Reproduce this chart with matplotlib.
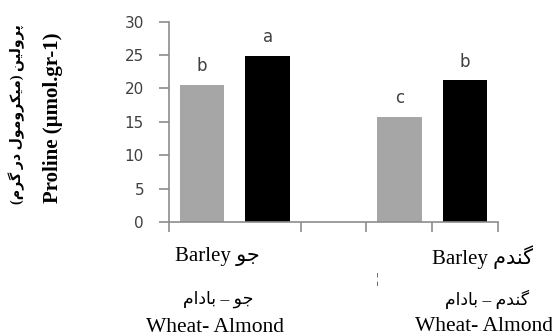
import numpy as np
import matplotlib
matplotlib.use("Agg")
import matplotlib.pyplot as plt

# proline content, two treatments per crop
proline = [20.5, 24.9, 15.8, 21.2]
letters = ["b", "a", "c", "b"]
bar_colors = ["#a6a6a6", "#000000", "#a6a6a6", "#000000"]

# matplotlib does not shape Arabic script, so the Persian words are written
# with presentation forms, already in display (left-to-right) order
jo = "\uFEEE\uFE9F"                           # جو
gandom = "\uFEE1\uFEAA\uFEE8\uFB94"           # گندم
badam = "\uFEE1\uFE8D\uFEA9\uFE8E\uFE91"      # بادام
geram = "\uFEE1\uFEAE\uFB94"                  # گرم
dar = "\uFEAD\uFEA9"                          # در
mikromol = "\uFEDD\uFEEE\uFEE3\uFEED\uFEAE\uFB91\uFBFF\uFEE3"   # میکرومول
prolin = "\uFEE6\uFBFF\uFEDF\uFEED\uFEAE\uFB58"                 # پرولین

ylabel_en = "Proline (\u00b5mol.gr-1)"
ylabel_fa = "(" + geram + " " + dar + " " + mikromol + ") " + prolin
top_labels = ["Barley " + jo, "Barley " + gandom]
mid_labels = [badam + " \u2013 " + jo, badam + " \u2013 " + gandom]
bottom_label = "Wheat- Almond"

mixed = ["Liberation Serif", "DejaVu Sans"]

fig = plt.figure(figsize=(5.52, 3.36), dpi=100)
ax = fig.add_axes([169 / 552, 1 - 222 / 336, (498 - 169) / 552, (222 - 21.7) / 336])

xpos = np.array([0.5, 1.5, 3.5, 4.5])
bars = ax.bar(xpos, proline, width=0.68, color=bar_colors, linewidth=0)
for b, lab in zip(bars, letters):
    ax.annotate(lab, (b.get_x() + b.get_width() / 2, b.get_height()),
                xytext=(0, 10), textcoords="offset points", ha="center",
                va="baseline", fontsize=12, color="#404040")

ax.set_xlim(0, 5)
ax.set_ylim(0, 30)
ax.set_yticks(range(0, 31, 5))
ax.set_xticks([0, 2, 3, 4, 5])
ax.set_xticklabels([])
for s in ["top", "right"]:
    ax.spines[s].set_visible(False)
for s in ["left", "bottom"]:
    ax.spines[s].set_color("#8c8c8c")
    ax.spines[s].set_linewidth(1.2)
ax.tick_params(axis="both", colors="#8c8c8c", width=1.2, length=7)
ax.tick_params(axis="y", labelcolor="#404040", labelsize=11, pad=11)

# y axis titles
fig.text(53 / 552, 1 - 118 / 336, ylabel_en, rotation=90, ha="center",
         va="center", fontsize=15, fontweight="bold", family="Liberation Serif")
fig.text(17 / 552, 1 - 114 / 336, ylabel_fa, rotation=90, ha="center",
         va="center", fontsize=10.2, fontweight="bold", family=mixed)

# group captions under the axis
for cx, lab in zip([217, 482], top_labels):
    fig.text(cx / 552, 1 - 257 / 336, lab, ha="center", va="center",
             fontsize=15, family=mixed)
for cx, lab in zip([218, 487], mid_labels):
    fig.text(cx / 552, 1 - 299 / 336, lab, ha="center", va="center",
             fontsize=12.5, family=mixed)
for cx, by in zip([215, 484], [332, 331]):
    fig.text(cx / 552, 1 - by / 336, bottom_label, ha="center",
             va="baseline", fontsize=15.5, family="Liberation Serif")
fig.text(377 / 552, 1 - 280 / 336, "\u00a6", ha="center", va="center",
         fontsize=11, family="Liberation Serif", color="#404040")

fig.savefig("out.png", dpi=100)
